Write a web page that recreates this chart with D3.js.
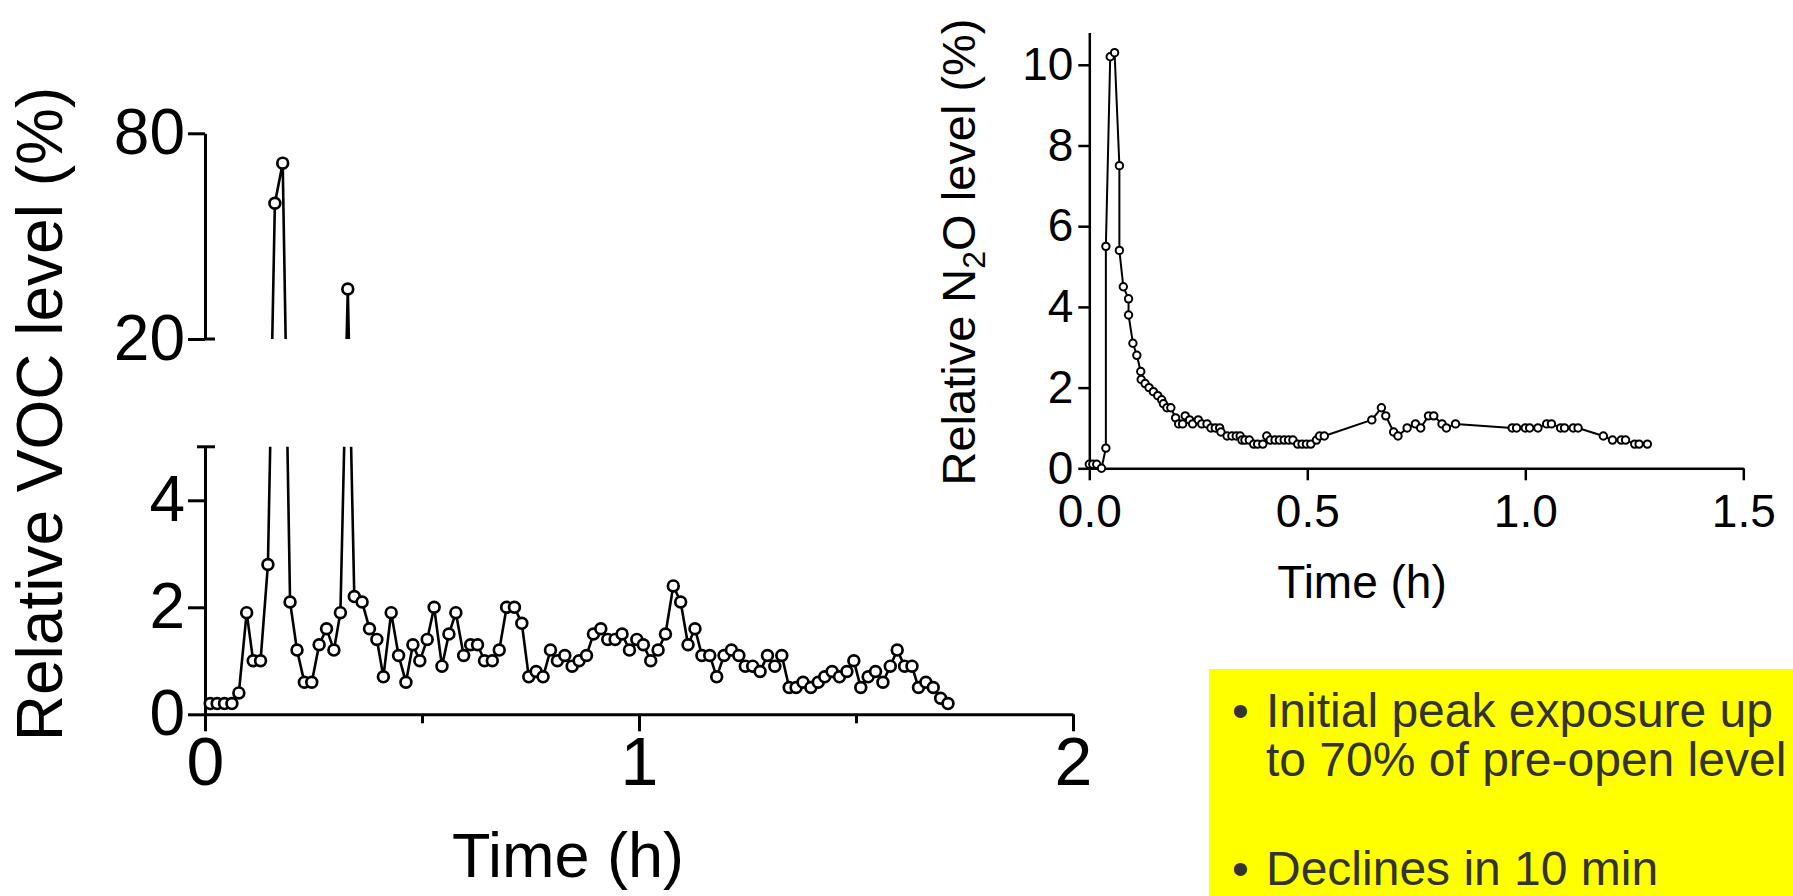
<!DOCTYPE html>
<html>
<head>
<meta charset="utf-8">
<script src="https://cdn.jsdelivr.net/npm/d3@7"></script>
<style>
body { margin: 0; background: #fff; }
svg { display: block; font-family: "Liberation Sans", Arial, sans-serif; }
</style>
</head>
<body>
<svg id="chart" width="1793" height="896"></svg>
<script>
// VOC series (left panel), one reading per minute
const vocTime = [0.012,0.028,0.045,0.062,0.078,0.096,0.111,0.128,0.145,0.161,
	0.179,0.196,0.212,0.229,0.246,0.263,0.280,0.297,0.312,0.329,
	0.344,0.362,0.379,0.396,0.411,0.429,0.446,0.463,0.479,0.495,
	0.512,0.528,0.546,0.562,0.578,0.596,0.612,0.628,0.644,0.662,
	0.678,0.695,0.713,0.730,0.746,0.763,0.779,0.796,0.812,0.829,
	0.846,0.862,0.879,0.895,0.912,0.928,0.945,0.961,0.978,0.995,
	1.010,1.027,1.044,1.061,1.079,1.096,1.113,1.129,1.145,1.163,
	1.179,1.196,1.213,1.230,1.245,1.262,1.279,1.296,1.313,1.329,
	1.346,1.362,1.378,1.396,1.413,1.428,1.445,1.462,1.479,1.495,
	1.511,1.528,1.545,1.562,1.579,1.595,1.612,1.629,1.644,1.661,
	1.678,1.695,1.712];
const vocLevel = [0.2,0.2,0.2,0.2,0.4,1.9,1.0,1.0,2.8,59.6,
	71.3,2.1,1.2,0.6,0.6,1.3,1.6,1.2,1.9,34.6,
	2.2,2.1,1.6,1.4,0.7,1.9,1.1,0.6,1.3,1.0,
	1.4,2.0,0.9,1.5,1.9,1.1,1.3,1.3,1.0,1.0,
	1.2,2.0,2.0,1.7,0.7,0.8,0.7,1.2,1.0,1.1,
	0.9,1.0,1.1,1.5,1.6,1.4,1.4,1.5,1.2,1.4,
	1.3,1.0,1.2,1.5,2.4,2.1,1.3,1.6,1.1,1.1,
	0.7,1.1,1.2,1.1,0.9,0.9,0.8,1.1,0.9,1.1,
	0.5,0.5,0.6,0.5,0.6,0.7,0.8,0.7,0.8,1.0,
	0.5,0.7,0.8,0.6,0.9,1.2,0.9,0.9,0.5,0.6,
	0.5,0.3,0.2];

// N2O series (right panel)
const n2oTime = [0.000,0.008,0.017,0.028,0.038,0.038,0.048,0.058,0.069,0.069,
	0.078,0.090,0.090,0.100,0.109,0.118,0.119,0.128,0.137,0.147,
	0.157,0.166,0.170,0.178,0.187,0.198,0.205,0.214,0.220,0.230,
	0.237,0.250,0.258,0.270,0.279,0.289,0.299,0.302,0.316,0.327,
	0.337,0.346,0.350,0.357,0.367,0.377,0.386,0.398,0.407,0.415,
	0.426,0.436,0.447,0.457,0.467,0.478,0.488,0.498,0.508,0.521,
	0.528,0.539,0.648,0.670,0.680,0.698,0.708,0.729,0.748,0.760,
	0.778,0.790,0.809,0.819,0.840,0.970,0.980,1.000,1.010,1.029,
	1.049,1.060,1.081,1.090,1.110,1.121,1.179,1.200,1.220,1.230,
	1.251,1.261,1.280];
const n2oLevel = [0.1,0.1,0.1,0.0,0.5,5.5,10.2,10.3,7.5,5.4,
	4.5,4.2,3.8,3.1,2.8,2.4,2.2,2.1,2.0,1.9,
	1.8,1.7,1.6,1.5,1.5,1.25,1.1,1.1,1.3,1.2,
	1.1,1.2,1.1,1.1,1.0,1.0,1.0,0.9,0.8,0.8,
	0.8,0.8,0.7,0.7,0.7,0.6,0.6,0.6,0.8,0.7,
	0.7,0.7,0.7,0.7,0.7,0.6,0.6,0.6,0.6,0.7,
	0.8,0.8,1.2,1.5,1.3,0.9,0.8,1.0,1.1,1.0,
	1.3,1.3,1.1,1.0,1.1,1.0,1.0,1.0,1.0,1.0,
	1.1,1.1,1.0,1.0,1.0,1.0,0.8,0.7,0.7,0.7,
	0.6,0.6,0.6];

// ticks
const vocLowerTicks = [0, 2, 4];
const vocUpperTicks = [20, 80];
const vocTimeTicks = [0, 1, 2];
const vocTimeMinor = [0.5, 1.5];
const n2oLevelTicks = [0, 2, 4, 6, 8, 10];
const n2oTimeTicks = [0, 0.5, 1, 1.5];

const notes = [
	['Initial peak exposure up', 'to 70% of pre-open level'],
	['Declines in 10 min']
];

const svg = d3.select('#chart');

// ---------- left panel: VOC with broken y axis ----------
const xV = d3.scaleLinear().domain([0, 2]).range([205, 1073]);
const yLow = d3.scaleLinear().domain([0, 5]).range([714.3, 446.8]);
const yGap = d3.scaleLinear().domain([5, 20]).range([446.8, 339]);
const yHigh = d3.scaleLinear().domain([20, 80]).range([339, 133.3]);
function yV(v) {
	if (v <= 5) return yLow(v);
	if (v < 20) return yGap(v);
	return yHigh(v);
}

const defs = svg.append('defs');
defs.append('clipPath').attr('id', 'clipLow')
	.append('rect').attr('x', 0).attr('y', 446.8).attr('width', 1793).attr('height', 449);
defs.append('clipPath').attr('id', 'clipHigh')
	.append('rect').attr('x', 0).attr('y', 0).attr('width', 1793).attr('height', 339);

const voc = vocTime.map((t, i) => ({ t: t, v: vocLevel[i] }));
const lineV = d3.line().x(d => xV(d.t)).y(d => yV(d.v));

function styleAxis(g, w, fs) {
	g.selectAll('path, line').attr('stroke', '#000').attr('stroke-width', w);
	g.selectAll('text').attr('fill', '#000').style('font-size', fs + 'px')
		.style('font-family', '"Liberation Sans", Arial, sans-serif');
}

// y axes (two segments)
svg.append('g').attr('transform', 'translate(205,0)')
	.call(d3.axisLeft(yLow).tickValues(vocLowerTicks).tickFormat(d3.format('d'))
		.tickSize(17).tickSizeOuter(0).tickPadding(3))
	.call(g => styleAxis(g, 3, 64));
svg.append('g').attr('transform', 'translate(205,0)')
	.call(d3.axisLeft(yHigh).tickValues(vocUpperTicks).tickFormat(d3.format('d'))
		.tickSize(17).tickSizeOuter(0).tickPadding(3))
	.call(g => styleAxis(g, 3, 64));
// break caps
svg.append('line').attr('x1', 197).attr('x2', 215).attr('y1', yLow(5)).attr('y2', yLow(5))
	.attr('stroke', '#000').attr('stroke-width', 3);
svg.append('line').attr('x1', 205).attr('x2', 215).attr('y1', yHigh(20)).attr('y2', yHigh(20))
	.attr('stroke', '#000').attr('stroke-width', 3);

// x axis
svg.append('g').attr('transform', 'translate(0,' + yLow(0) + ')')
	.call(d3.axisBottom(xV).tickValues(vocTimeTicks).tickFormat(d3.format('d'))
		.tickSize(17).tickSizeOuter(0).tickPadding(5))
	.call(g => styleAxis(g, 3, 68));
svg.append('g').attr('transform', 'translate(0,' + yLow(0) + ')')
	.call(d3.axisBottom(xV).tickValues(vocTimeMinor).tickFormat('').tickSize(9).tickSizeOuter(0))
	.call(g => g.select('.domain').remove())
	.call(g => styleAxis(g, 3, 68));

// data line, clipped to each axis segment
['clipLow', 'clipHigh'].forEach(id => {
	svg.append('path').datum(voc)
		.attr('clip-path', 'url(#' + id + ')')
		.attr('fill', 'none').attr('stroke', '#000').attr('stroke-width', 2.6)
		.attr('stroke-linejoin', 'round')
		.attr('d', lineV);
});
svg.append('g').selectAll('circle').data(voc).enter().append('circle')
	.attr('cx', d => xV(d.t)).attr('cy', d => yV(d.v)).attr('r', 5.4)
	.attr('fill', '#fff').attr('stroke', '#000').attr('stroke-width', 2.7);

svg.append('text').attr('x', 568).attr('y', 877).attr('text-anchor', 'middle')
	.style('font-size', '63px').text('Time (h)');
svg.append('text').attr('transform', 'translate(62,414) rotate(-90)').attr('text-anchor', 'middle')
	.style('font-size', '64px').text('Relative VOC level (%)');

// ---------- right panel: N2O ----------
const xN = d3.scaleLinear().domain([0, 1.5]).range([1089.3, 1743.3]);
const yN = d3.scaleLinear().domain([0, 10.8]).range([468.3, 32.5]);
const n2o = n2oTime.map((t, i) => ({ t: t, v: n2oLevel[i] }));

svg.append('g').attr('transform', 'translate(1089.3,0)')
	.call(d3.axisLeft(yN).tickValues(n2oLevelTicks).tickSize(11).tickSizeOuter(0).tickPadding(5))
	.call(g => styleAxis(g, 2.5, 46));
svg.append('g').attr('transform', 'translate(0,468.3)')
	.call(d3.axisBottom(xN).tickValues(n2oTimeTicks).tickFormat(d3.format('.1f'))
		.tickSize(12).tickSizeOuter(0).tickPadding(14))
	.call(g => styleAxis(g, 2.5, 46));

svg.append('path').datum(n2o)
	.attr('fill', 'none').attr('stroke', '#000').attr('stroke-width', 2)
	.attr('stroke-linejoin', 'round')
	.attr('d', d3.line().x(d => xN(d.t)).y(d => yN(d.v)));
svg.append('g').selectAll('circle').data(n2o).enter().append('circle')
	.attr('cx', d => xN(d.t)).attr('cy', d => yN(d.v)).attr('r', 3.7)
	.attr('fill', '#fff').attr('stroke', '#000').attr('stroke-width', 2);

svg.append('text').attr('x', 1362).attr('y', 598).attr('text-anchor', 'middle')
	.style('font-size', '46px').text('Time (h)');
const yt = svg.append('text').attr('transform', 'translate(975,252) rotate(-90)')
	.attr('text-anchor', 'middle').style('font-size', '47px');
yt.append('tspan').text('Relative N');
yt.append('tspan').attr('dy', 10).style('font-size', '32px').text('2');
yt.append('tspan').attr('dy', -10).text('O level (%)');

// ---------- yellow note box ----------
svg.append('rect').attr('x', 1209).attr('y', 669).attr('width', 584).attr('height', 227)
	.attr('fill', '#ffff00');
let ly = 727;
notes.forEach(lines => {
	lines.forEach((l, j) => {
		if (j === 0) {
			svg.append('text').attr('x', 1232).attr('y', ly).style('font-size', '48px')
				.attr('fill', '#333').text('\u2022');
		}
		svg.append('text').attr('x', 1266).attr('y', ly).style('font-size', '48px')
			.attr('fill', '#333').text(l);
		ly += 49;
	});
	ly += 60;
});
</script>
</body>
</html>
